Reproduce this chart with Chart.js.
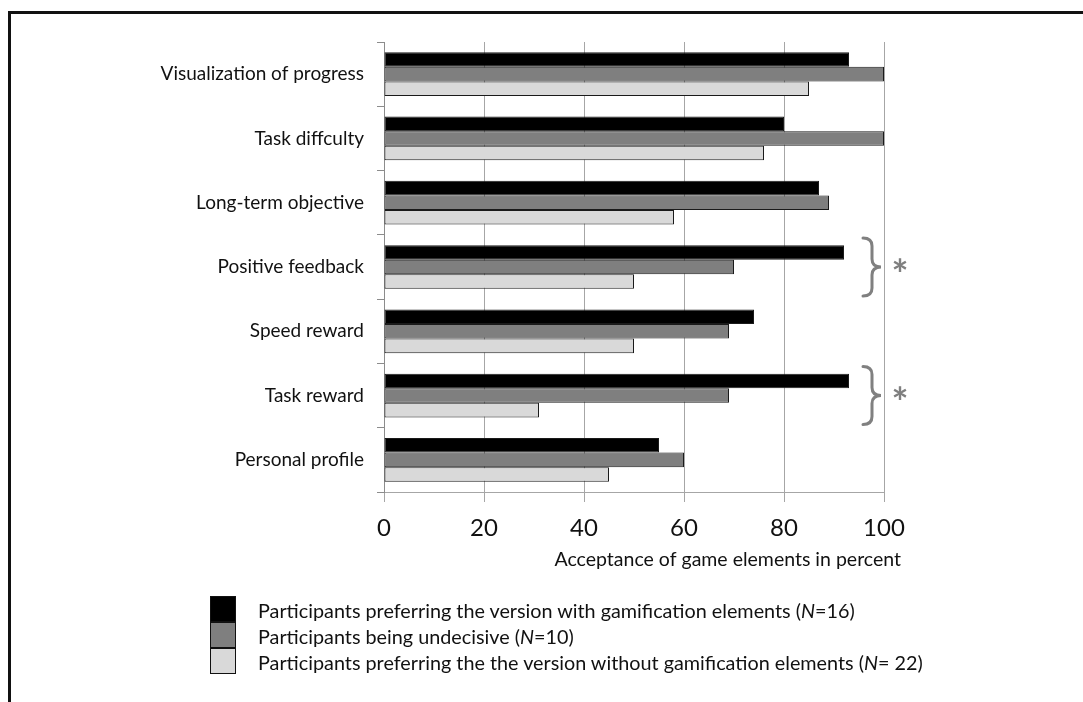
<!DOCTYPE html>
<html lang="en">
<head>
<meta charset="UTF-8">
<title>Acceptance of game elements</title>
<script src="https://cdn.jsdelivr.net/npm/chart.js"></script>
<style>
  html, body { margin: 0; padding: 0; background: #fff; }
  #wrap { position: relative; width: 1083px; height: 702px; overflow: hidden; font-family: Lato, "Open Sans", sans-serif; }
  #frame { position: absolute; left: 8px; top: 11px; width: 1200px; height: 800px; border-top: 3px solid #111; border-left: 3px solid #111; }
  #chart { position: absolute; left: 0; top: 0; }
  #legend { position: absolute; left: 210px; top: 597px; }
  .item { display: flex; align-items: center; height: 26px; }
  .box { width: 24px; height: 24px; border: 1.5px solid #111; margin-top: -1.5px; box-sizing: content-box; }
  .txt { margin-left: 22px; font-size: 19.8px; color: #111; white-space: nowrap; }
</style>
</head>
<body>
<div id="wrap">
  <div id="frame"></div>
  <canvas id="chart" width="1083" height="702"></canvas>
  <div id="legend"></div>
</div>
<script>
// categories top to bottom
const categories = ['Visualization of progress', 'Task diffculty', 'Long-term objective',
  'Positive feedback', 'Speed reward', 'Task reward', 'Personal profile'];
const withGamification = [93, 80, 87, 92, 74, 93, 55];
const undecisive = [100, 100, 89, 70, 69, 69, 60];
const withoutGamification = [85, 76, 58, 50, 50, 31, 45];
const xTicks = [0, 20, 40, 60, 80, 100];
const significant = ['Positive feedback', 'Task reward'];

const seriesNames = [
  'Participants preferring the version with gamification elements (<i>N</i>=16)',
  'Participants being undecisive (<i>N</i>=10)',
  'Participants preferring the the version without gamification elements (<i>N</i>= 22)'
];
const colors = ['#000000', '#7f7f7f', '#d9d9d9'];

const fontFam = 'Lato, "Open Sans", sans-serif';

// curly braces + asterisk next to significant groups
const bracePlugin = {
  id: 'braces',
  afterDatasetsDraw(chart) {
    const { ctx, chartArea, scales: { x, y } } = chart;
    ctx.save();
    ctx.strokeStyle = '#808080';
    ctx.lineWidth = 3;
    ctx.lineCap = 'round';
    significant.forEach(name => {
      const yc = y.getPixelForValue(categories.indexOf(name));
      const x0 = x.right - 21, x1 = x.right - 3, xm = (x0 + x1) / 2;
      const h = 29;
      ctx.beginPath();
      ctx.moveTo(x0, yc - h);
      ctx.quadraticCurveTo(xm, yc - h, xm, yc - h + 8);
      ctx.lineTo(xm, yc - 8);
      ctx.quadraticCurveTo(xm, yc, x1, yc);
      ctx.quadraticCurveTo(xm, yc, xm, yc + 8);
      ctx.lineTo(xm, yc + h - 8);
      ctx.quadraticCurveTo(xm, yc + h, x0, yc + h);
      ctx.stroke();
      ctx.fillStyle = '#7f7f7f';
      ctx.font = 'bold 40px ' + fontFam;
      ctx.textAlign = 'center';
      ctx.textBaseline = 'middle';
      ctx.fillText('*', x.right + 16, yc + 9);
    });
    // axis title, right aligned a bit past the plot edge
    ctx.fillStyle = '#111';
    ctx.font = '19.5px ' + fontFam;
    ctx.textAlign = 'right';
    ctx.textBaseline = 'middle';
    ctx.fillText('Acceptance of game elements in percent', chartArea.right + 17, chartArea.bottom + 68);
    ctx.restore();
  }
};

const chart = new Chart(document.getElementById('chart'), {
  type: 'bar',
  data: {
    labels: categories,
    datasets: [withGamification, undecisive, withoutGamification].map((d, i) => ({
      label: seriesNames[i],
      data: d,
      backgroundColor: colors[i],
      borderColor: '#1a1a1a',
      borderWidth: 1,
      borderSkipped: false,
      barPercentage: 1.0,
      categoryPercentage: 0.68
    }))
  },
  options: {
    indexAxis: 'y',
    responsive: false,
    animation: false,
    events: [],
    layout: { padding: { left: 0, top: 42, right: 199, bottom: 150 } },
    plugins: { legend: { display: false }, tooltip: { enabled: false } },
    scales: {
      x: {
        min: 0, max: 100,
        afterBuildTicks: s => { s.ticks = xTicks.map(v => ({ value: v })); },
        afterFit: s => { s.height = 60; },
        grid: { color: '#a6a6a6', lineWidth: 1, tickLength: 10, tickColor: '#a6a6a6' },
        border: { color: '#a6a6a6', width: 1 },
        ticks: { color: '#111', font: { family: fontFam, size: 24 }, padding: 12, maxRotation: 0 }
      },
      y: {
        afterFit: s => { s.width = 384; },
        grid: { drawOnChartArea: false, offset: true, tickLength: 7, color: '#8c8c8c' },
        border: { color: '#8c8c8c', width: 1 },
        ticks: { color: '#111', font: { family: fontFam, size: 19 }, padding: 13 }
      }
    }
  },
  plugins: [bracePlugin]
});

// legend stacked vertically, built from chart datasets
const legend = document.getElementById('legend');
chart.data.datasets.forEach(ds => {
  const row = document.createElement('div');
  row.className = 'item';
  row.innerHTML = '<span class="box" style="background:' + ds.backgroundColor + '"></span><span class="txt">' + ds.label + '</span>';
  legend.appendChild(row);
});
</script>
</body>
</html>
